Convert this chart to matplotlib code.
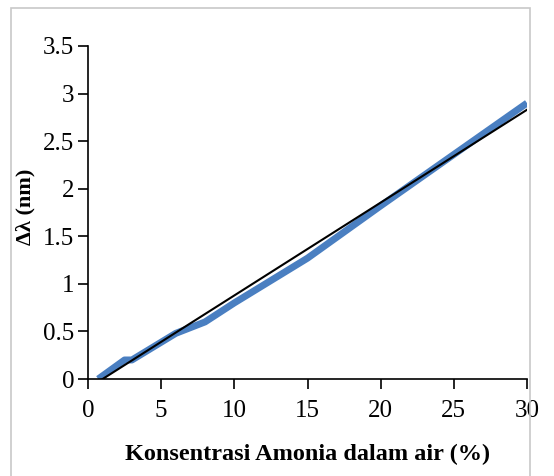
import matplotlib
matplotlib.use("Agg")
import matplotlib.pyplot as plt
from matplotlib.patches import Rectangle
import numpy as np

conc = [0.7, 2.5, 3.0, 6.0, 8.0, 10.0, 15.0, 20.0, 25.0, 30.0]
shift = [0.0, 0.2, 0.2, 0.48, 0.6, 0.8, 1.27, 1.82, 2.36, 2.9]
trend_x = [1.0, 30.0]
trend_y = [0.0, 2.83]
xticks = [0, 5, 10, 15, 20, 25, 30]
yticks = [0, 0.5, 1, 1.5, 2, 2.5, 3, 3.5]
ytick_labels = ["0", "0.5", "1", "1.5", "2", "2.5", "3", "3.5"]

plt.rcParams['font.family'] = ['Liberation Serif', 'DejaVu Serif']

W, H = 554, 476
fig = plt.figure(figsize=(W/100, H/100), dpi=100)
fig.patches.append(Rectangle((11/W, -0.1), (530-11)/W, 1.1 - 8/H + 0.0,
                             transform=fig.transFigure, fill=False,
                             edgecolor='#c8c8c8', linewidth=1.2))
ax = fig.add_axes([88/W, 1-379/H, (527-88)/W, (379-46)/H])
ax.plot(conc, shift, color='#4a7fc1', linewidth=5, solid_capstyle='butt', zorder=2)
ax.plot(trend_x, trend_y, color='black', linewidth=1.5, zorder=3)
ax.set_xlim(0, 30)
ax.set_ylim(0, 3.5)
ax.set_xticks(xticks)
ax.set_yticks(yticks)
ax.set_yticklabels(ytick_labels)
for s in ['top', 'right']:
    ax.spines[s].set_visible(False)
for s in ['left', 'bottom']:
    ax.spines[s].set_linewidth(1.2)
ax.tick_params(direction='out', length=7, width=1.2, labelsize=18)
ax.tick_params(axis='x', pad=8)
ax.tick_params(axis='y', pad=3)
ax.set_xlabel('Konsentrasi Amonia dalam air (%)', fontsize=17.5, fontweight='bold', labelpad=16)
ax.set_ylabel('Δλ (nm)', fontsize=16, fontweight='bold')
ax.yaxis.set_label_coords(-0.12, 0.516)
fig.savefig('out.png', dpi=100)
